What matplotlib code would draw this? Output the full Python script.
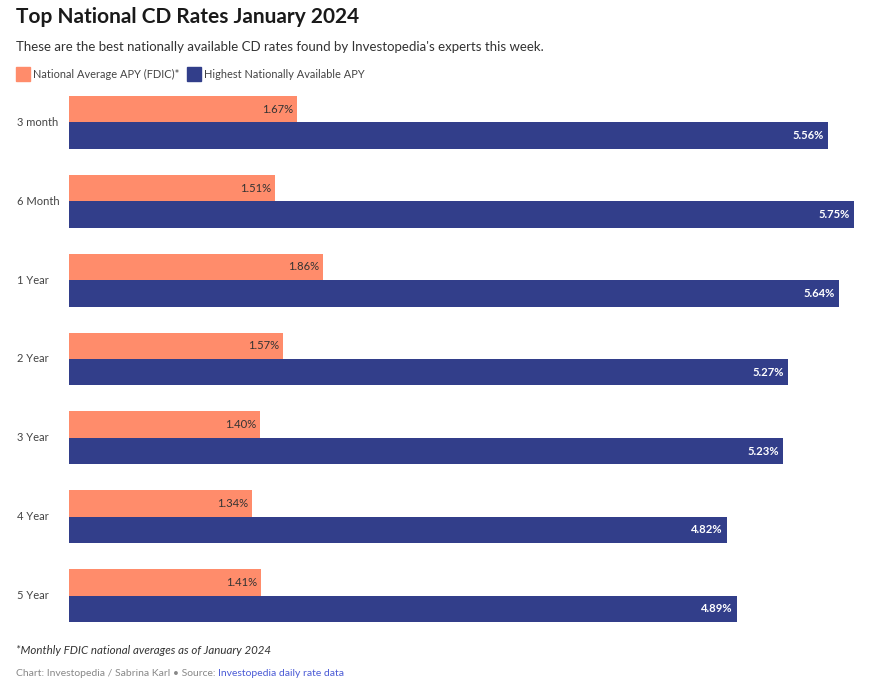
import matplotlib
matplotlib.use("Agg")
import matplotlib.pyplot as plt
import numpy as np
from matplotlib.patches import Rectangle

plt.rcParams['font.family'] = ['Lato', 'DejaVu Sans']

categories = ["3 month", "6 Month", "1 Year", "2 Year", "3 Year", "4 Year", "5 Year"]
national_avg = [1.67, 1.51, 1.86, 1.57, 1.40, 1.34, 1.41]
highest = [5.56, 5.75, 5.64, 5.27, 5.23, 4.82, 4.89]
series_names = ["National Average APY (FDIC)*", "Highest Nationally Available APY"]

ORANGE = "#FF8C6B"
NAVY = "#323E8A"

W, H = 882, 683
fig = plt.figure(figsize=(W / 100, H / 100), dpi=100)

def fx(px):
    return px / W

def fy(py):
    return 1 - py / H

ax = fig.add_axes([fx(69), fy(622), (854 - 69) / W, (622 - 96) / H])
y = np.arange(len(categories))
h = 0.335
ax.barh(y - h / 2, national_avg, height=h, color=ORANGE)
ax.barh(y + h / 2, highest, height=h, color=NAVY)
ax.set_xlim(0, 5.75)
ax.set_ylim(len(categories) - 1 + h, -h)
ax.axis("off")

for i, (a, b) in enumerate(zip(national_avg, highest)):
    ax.text(a - 0.03, i - h / 2, f"{a:.2f}%", ha="right", va="center",
            fontsize=8.1, color="#333333")
    ax.text(b - 0.03, i + h / 2, f"{b:.2f}%", ha="right", va="center",
            fontsize=8.1, color="white", fontweight="bold")
    ax.annotate(categories[i], xy=(0, i), xycoords="data",
                xytext=(fx(17), i), textcoords=("figure fraction", "data"),
                ha="left", va="center", fontsize=8.0, color="#444444")

fig.text(fx(16), fy(17), "Top National CD Rates January 2024", fontsize=15,
         fontweight="bold", color="#1a1a1a", ha="left", va="center")
fig.text(fx(16), fy(47), "These are the best nationally available CD rates found by Investopedia's experts this week.",
         fontsize=9.5, color="#333333", ha="left", va="center")

# legend
fig.patches.append(Rectangle((fx(16), fy(81)), 14 / W, 14 / H, transform=fig.transFigure,
                             color=ORANGE, figure=fig))
fig.text(fx(33), fy(74), series_names[0], fontsize=7.9, color="#444444", ha="left", va="center")
fig.patches.append(Rectangle((fx(187), fy(81)), 14 / W, 14 / H, transform=fig.transFigure,
                             color=NAVY, figure=fig))
fig.text(fx(204), fy(74), series_names[1], fontsize=7.9, color="#444444", ha="left", va="center")

fig.text(fx(16), fy(651), "*Monthly FDIC national averages as of January 2024", fontsize=8.3,
         color="#333333", style="italic", ha="left", va="center")
t = fig.text(fx(16), fy(674), "Chart: Investopedia / Sabrina Karl \u2022 Source: ", fontsize=7.5,
             color="#888888", ha="left", va="center")
fig.canvas.draw()
bb = t.get_window_extent(renderer=fig.canvas.get_renderer())
fig.text(bb.x1 / W, fy(674), "Investopedia daily rate data", fontsize=7.5,
         color="#4B5BD6", ha="left", va="center")

fig.savefig("out.png", dpi=100)
